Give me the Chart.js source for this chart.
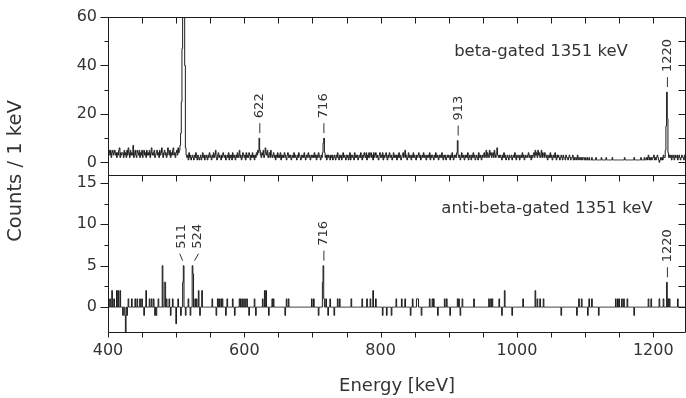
<!DOCTYPE html>
<html>
<head>
<meta charset="utf-8">
<script src="https://cdn.jsdelivr.net/npm/chart.js@4.4.0/dist/chart.umd.min.js"></script>
<style>
  html, body { margin: 0; padding: 0; background: #fff; }
  canvas { display: block; }
</style>
</head>
<body>
<canvas id="spectrum" width="686" height="398"></canvas>
<script>
// Energia do primeiro canal (1 keV por canal)
const energyStart = 400;

// Espectro com gate beta, contagens por canal de 400 a 1249 keV
const betaCounts = [
    8,4,5,3,5, 2,4,5,3,4, 5,3,4,2,4, 3,5,6,2,4, 3,4,4,2,5,
    3,4,2,5,3, 6,4,2,5,3, 4,3,7,2,4, 5,3,2,5,4, 3,5,2,4,3,
    5,2,4,5,3, 4,2,5,3,4, 3,5,2,4,6, 3,4,3,5,2, 3,4,5,3,4,
    2,5,3,4,6, 3,2,4,5,3, 4,2,3,6,4, 3,5,2,4,3, 5,6,3,4,2,
    4,5,3,6,4, 5,7,12,25,47, 150,220,120,40,6, 3,2,3,1,4, 2,3,1,2,3,
    2,1,3,2,4, 2,1,3,2,1, 2,3,1,2,4, 2,3,1,2,3, 2,1,3,2,4,
    3,2,1,3,2, 4,2,3,5,2, 1,3,4,2,3, 2,1,3,2,4, 3,2,3,1,2,
    3,2,4,1,3, 2,3,1,4,2, 3,2,1,3,2, 4,2,3,5,2, 3,1,2,4,3,
    2,3,1,4,2, 3,2,4,3,1, 3,2,4,2,3, 1,3,2,4,3, 5,4,10,5,3,
    2,4,3,5,2, 3,6,4,3,5, 2,3,4,2,5, 3,2,3,4,2, 3,1,3,2,4,
    2,3,2,4,1, 3,2,3,2,4, 3,2,1,3,4, 2,3,2,3,1, 2,3,2,4,2,
    3,2,1,3,2, 4,3,2,1,3, 2,3,2,4,2, 1,3,2,3,4, 2,3,1,2,3,
    2,3,2,4,2, 3,1,3,2,4, 3,2,1,3,2, 4,8,10,4,2, 3,1,3,2,3,
    2,1,3,2,3, 1,2,3,2,1, 3,2,4,2,1, 3,2,3,1,2, 4,2,3,2,1,
    3,2,3,1,2, 4,1,3,2,3, 2,1,4,2,3, 2,3,1,2,3, 2,4,2,1,3,
    2,4,3,2,4, 1,3,2,4,2, 3,4,2,3,1, 4,2,3,4,2, 3,2,1,3,4,
    2,3,2,4,1, 3,2,3,4,2, 1,3,2,4,3, 2,3,1,2,4, 2,3,2,3,1,
    3,2,4,2,3, 1,2,3,4,2, 3,5,2,3,1, 2,4,2,3,2, 1,3,2,4,2,
    3,2,1,3,2, 3,4,2,3,1, 2,3,2,4,2, 3,2,1,3,2, 3,2,4,1,3,
    2,3,2,1,3, 2,4,2,3,2, 1,3,2,3,2, 4,2,1,3,2, 3,1,2,3,2,
    3,2,1,3,2, 4,2,1,3,2, 3,2,4,9,3, 2,3,1,2,4, 2,3,2,1,3,
    2,3,2,4,1, 2,3,2,1,3, 2,4,2,3,1, 2,3,2,1,4, 2,3,2,1,3,
    2,3,4,2,3, 5,2,4,3,2, 5,3,4,2,3, 4,2,5,3,2, 4,6,3,2,3,
    2,3,2,1,3, 2,4,2,3,1, 2,3,2,1,3, 2,2,3,1,2, 3,2,4,2,1,
    3,2,2,3,1, 2,3,2,4,2, 3,1,2,3,2, 2,3,4,2,3, 2,1,3,2,3,
    4,2,5,3,4, 2,5,3,4,2, 3,5,2,4,3, 2,4,3,2,3, 1,2,3,2,4,
    2,3,1,2,3, 2,4,2,1,3, 2,3,2,1,2, 3,2,1,3,2, 2,1,3,2,2,
    1,2,3,2,1, 2,2,3,1,2, 1,2,2,1,3, 2,1,2,2,1, 2,1,2,2,1,
    2,1,1,2,1, 1,2,1,1,1, 2,1,1,1,1, 1,2,1,1,1, 1,1,1,1,2,
    1,1,1,1,1, 1,2,1,1,1, 1,1,1,1,1, 2,1,1,1,1, 1,1,1,1,1,
    1,1,1,1,1, 1,1,1,2,1, 1,1,1,1,1, 1,1,1,1,1, 1,1,2,1,1,
    1,1,1,1,1, 1,1,2,1,1, 1,1,2,1,1, 2,1,2,3,1, 2,1,2,1,2,
    2,3,1,2,1, 2,3,2,1,0, 1,2,1,2,1, 3,2,2,5,15, 29,18,4,2,3,
    2,3,1,2,3, 2,1,3,2,2, 3,1,2,3,2, 1,2,3,2,2, 1,3,2,2,3
];

// Espectro anti-beta: só os canais diferentes de zero
const antiEnergies = [
    400, 403, 406, 409, 413, 415, 418, 422, 425, 426,
    428, 430, 435, 440, 443, 447, 450, 453, 456, 461,
    464, 467, 469, 471, 474, 480, 483, 484, 486, 490,
    492, 495, 500, 503, 507, 510, 511, 514, 518, 521,
    524, 525, 528, 530, 533, 535, 538, 553, 559, 561,
    563, 566, 568, 573, 575, 583, 586, 593, 595, 598,
    601, 604, 607, 615, 617, 627, 630, 632, 636, 641,
    643, 660, 662, 665, 699, 702, 709, 715, 716, 717,
    720, 723, 726, 732, 737, 740, 757, 773, 780, 785,
    789, 793, 803, 809, 816, 823, 831, 836, 844, 847,
    853, 854, 855, 860, 872, 876, 878, 884, 894, 897,
    902, 913, 915, 917, 920, 937, 959, 962, 964, 974,
    978, 982, 993, 1009, 1027, 1030, 1034, 1039, 1065, 1088,
    1091, 1095, 1104, 1106, 1110, 1120, 1145, 1148, 1150, 1154,
    1157, 1162, 1172, 1193, 1197, 1209, 1215, 1220, 1222, 1224,
    1236
];
const antiCounts = [
    1, 1, 2, 1, 2, 2, 2, -1, -1, -3,
    -1, 1, 1, 1, 1, 1, 1, -1, 2, 1,
    1, 1, -1, -1, 1, 5, 3, 3, 1, 1,
    -1, 1, -2, 1, -1, 3, 5, -1, 1, -1,
    5, 4, 1, 1, 2, -1, 2, 1, -1, 1,
    1, 1, 1, -1, 1, 1, -1, 1, 1, 1,
    1, 1, -1, 1, -1, 1, 2, 2, -1, 1,
    1, -1, 1, 1, 1, 1, -1, 3, 5, 1,
    1, -1, 1, -1, 1, 1, 1, 1, 1, 1,
    2, 1, -1, -1, -1, 1, 1, 1, -1, 1,
    1, 1, 1, -1, 1, 1, 1, -1, 1, 1,
    -1, 1, 1, -1, 1, 1, 1, 1, 1, 1,
    -1, 2, -1, 1, 2, 1, 1, 1, -1, -1,
    1, 1, -1, 1, 1, -1, 1, 1, 1, 1,
    1, 1, -1, 1, 1, 1, 1, 3, 1, 1,
    1
];

// Picos marcados
const betaPeakLabels = ['622', '716', '913', '1220'];
const betaPeakEnergies = [622, 716, 913, 1220];
const antiPeakLabels = ['511', '524', '716', '1220'];
const antiPeakEnergies = [511, 524, 716, 1220];

// Rótulos dos eixos
const xTickValues = [400, 600, 800, 1000, 1200];
const betaTickValues = [0, 20, 40, 60];
const antiTickValues = [0, 5, 10, 15];

// Montar séries
const betaData = betaCounts.map((c, i) => ({ x: energyStart + i, y: c }));
const antiFull = betaCounts.map(() => 0);
antiEnergies.forEach((e, k) => { antiFull[e - energyStart] = antiCounts[k]; });
const antiData = antiFull.map((c, i) => ({ x: energyStart + i, y: c }));

// Deslocamento das linhas de chamada (px): [base, topo, texto]
const leaderShift = { '511': [-1, -4, -2], '524': [2, 6, 5] };

const inkColor = '#1c1c1c';
const textColor = '#333';

function localMax(series, e) {
    let m = -Infinity;
    for (let i = e - 2; i <= e + 2; i++) {
        const v = series[i - energyStart];
        if (v !== undefined && v > m) m = v;
    }
    return m;
}

function drawPeakLabels(ctx, xScale, yScale, labels, energies, series) {
    ctx.font = '13px "DejaVu Sans"';
    ctx.textAlign = 'left';
    ctx.textBaseline = 'middle';
    labels.forEach((label, i) => {
        const px = xScale.getPixelForValue(energies[i]);
        const py = yScale.getPixelForValue(localMax(series, energies[i])) - 5;
        const sh = leaderShift[label] || [0.5, 0.5, 0.5];
        const len = leaderShift[label] ? 7 : 10;
        ctx.beginPath();
        ctx.moveTo(px + sh[0], py);
        ctx.lineTo(px + sh[1], py - len);
        ctx.stroke();
        ctx.save();
        ctx.translate(px + sh[2], py - len - 5);
        ctx.rotate(-Math.PI / 2);
        ctx.fillText(label, 0, 0);
        ctx.restore();
    });
}

const axisFrame = {
    id: 'axisFrame',
    afterDraw(chart) {
        const { ctx, chartArea: area, scales } = chart;
        const x = scales.x, yT = scales.yTop, yB = scales.yBot;
        const L = Math.round(area.left) + 0.5;
        const R = Math.round(area.right) - 0.5;
        const T = Math.round(yT.top) + 0.5;
        const M = Math.round(yT.bottom) + 0.5;
        const B = Math.round(yB.bottom) + 0.5;

        ctx.save();
        ctx.strokeStyle = inkColor;
        ctx.lineWidth = 1;
        ctx.beginPath();
        ctx.rect(L, T, R - L, B - T);
        ctx.moveTo(L, M);
        ctx.lineTo(R, M);

        // marcas do eixo x a cada 50 keV
        for (let e = 400; e <= 1200; e += 50) {
            const px = Math.round(x.getPixelForValue(e)) + 0.5;
            ctx.moveTo(px, T); ctx.lineTo(px, T + 6);
            ctx.moveTo(px, M); ctx.lineTo(px, M + 6);
            ctx.moveTo(px, B); ctx.lineTo(px, B + 5);
        }

        // marcas do eixo y
        const yMarks = (scale, step, major) => {
            for (let v = 0; v <= scale.max + 1e-6; v += step) {
                const py = Math.round(scale.getPixelForValue(v)) + 0.5;
                const isMajor = Math.abs(v / major - Math.round(v / major)) < 1e-6;
                ctx.moveTo(L - (isMajor ? 8 : 4), py); ctx.lineTo(L, py);
                ctx.moveTo(R, py); ctx.lineTo(R - 7, py);
            }
        };
        yMarks(yT, 10, 20);
        yMarks(yB, 2.5, 5);
        ctx.stroke();

        // rótulos dos picos
        ctx.fillStyle = textColor;
        ctx.strokeStyle = textColor;
        drawPeakLabels(ctx, x, yT, betaPeakLabels, betaPeakEnergies, betaCounts);
        drawPeakLabels(ctx, x, yB, antiPeakLabels, antiPeakEnergies, antiFull);

        // legendas dos painéis
        ctx.font = '16.5px "DejaVu Sans"';
        ctx.textAlign = 'center';
        ctx.textBaseline = 'alphabetic';
        ctx.fillText('beta-gated 1351 keV', 541, 56);
        ctx.fillText('anti-beta-gated 1351 keV', 547, 213);

        // títulos dos eixos
        ctx.font = '18px "DejaVu Sans"';
        ctx.fillText('Energy [keV]', 397, 391);
        ctx.save();
        ctx.font = '19.5px "DejaVu Sans"';
        ctx.translate(16, 171);
        ctx.rotate(-Math.PI / 2);
        ctx.textBaseline = 'middle';
        ctx.fillText('Counts / 1 keV', 0, 0);
        ctx.restore();

        ctx.restore();
    }
};

Chart.defaults.font.family = '"DejaVu Sans"';
Chart.defaults.color = textColor;

const tickFont = { family: '"DejaVu Sans"', size: 16 };

new Chart(document.getElementById('spectrum'), {
    type: 'line',
    data: {
        datasets: [
            {
                label: 'beta-gated 1351 keV',
                data: betaData,
                yAxisID: 'yTop',
                borderColor: inkColor,
                borderWidth: 1,
                pointRadius: 0,
                stepped: 'middle',
                fill: false
            },
            {
                label: 'anti-beta-gated 1351 keV',
                data: antiData,
                yAxisID: 'yBot',
                borderColor: inkColor,
                borderWidth: 1,
                pointRadius: 0,
                stepped: 'middle',
                fill: false
            }
        ]
    },
    options: {
        responsive: false,
        animation: false,
        parsing: false,
        layout: { padding: { top: 17, right: 0, bottom: 0, left: 0 } },
        plugins: {
            legend: { display: false },
            tooltip: { enabled: false }
        },
        scales: {
            x: {
                type: 'linear',
                min: 400,
                max: 1248,
                border: { display: false },
                grid: { display: false, drawTicks: true, tickLength: 5 },
                ticks: {
                    font: tickFont, color: textColor, padding: 4, maxRotation: 0, autoSkip: false,
                    callback: v => String(v)
                },
                afterBuildTicks: s => { s.ticks = xTickValues.map(v => ({ value: v })); },
                afterFit: s => { s.height = 66; }
            },
            yBot: {
                type: 'linear',
                position: 'left',
                stack: 'panels',
                stackWeight: 1,
                min: -3,
                max: 16,
                border: { display: false },
                grid: { display: false, drawTicks: true, tickLength: 8 },
                ticks: { font: tickFont, color: textColor, padding: 3, autoSkip: false },
                afterBuildTicks: s => { s.ticks = antiTickValues.map(v => ({ value: v })); },
                afterFit: s => { s.width = 108; }
            },
            yTop: {
                type: 'linear',
                position: 'left',
                stack: 'panels',
                stackWeight: 1,
                min: -5,
                max: 60,
                border: { display: false },
                grid: { display: false, drawTicks: true, tickLength: 8 },
                ticks: { font: tickFont, color: textColor, padding: 3, autoSkip: false },
                afterBuildTicks: s => { s.ticks = betaTickValues.map(v => ({ value: v })); },
                afterFit: s => { s.width = 108; }
            }
        }
    },
    plugins: [axisFrame]
});
</script>
</body>
</html>
